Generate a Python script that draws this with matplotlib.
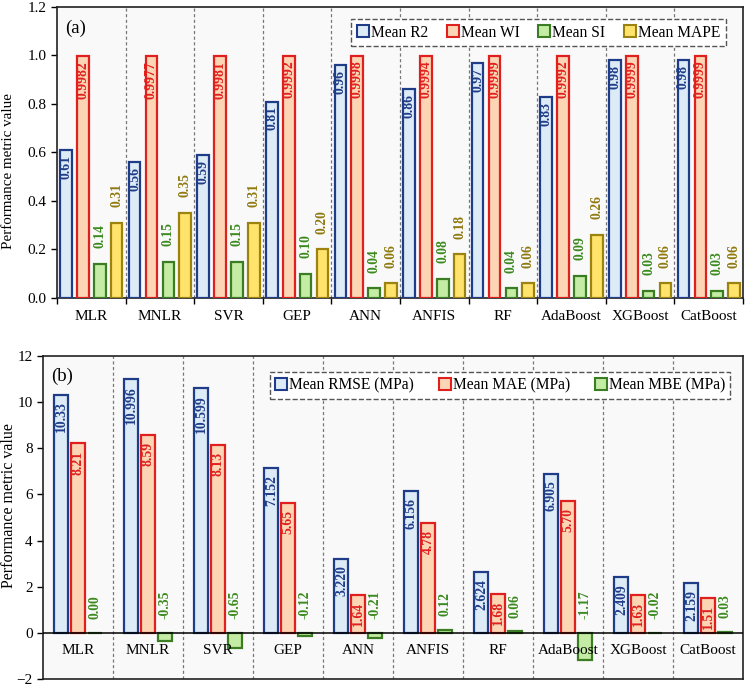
import matplotlib
matplotlib.use("Agg")
import matplotlib.pyplot as plt
from matplotlib.lines import Line2D
import numpy as np

plt.rcParams['font.family'] = ['Liberation Serif', 'DejaVu Serif']

models = ["MLR", "MNLR", "SVR", "GEP", "ANN", "ANFIS", "RF", "AdaBoost", "XGBoost", "CatBoost"]

# panel (a)
r2 = [0.61, 0.56, 0.59, 0.81, 0.96, 0.86, 0.97, 0.83, 0.98, 0.98]
wi = [0.9982, 0.9977, 0.9981, 0.9992, 0.9998, 0.9994, 0.9999, 0.9992, 0.9999, 0.9999]
si = [0.14, 0.15, 0.15, 0.10, 0.04, 0.08, 0.04, 0.09, 0.03, 0.03]
mape = [0.31, 0.35, 0.31, 0.20, 0.06, 0.18, 0.06, 0.26, 0.06, 0.06]

# panel (b)
rmse_txt = ["10.33", "10.996", "10.599", "7.152", "3.220", "6.156", "2.624", "6.905", "2.409", "2.159"]
mae_txt = ["8.21", "8.59", "8.13", "5.65", "1.64", "4.78", "1.68", "5.70", "1.63", "1.51"]
mbe_txt = ["0.00", "-0.35", "-0.65", "-0.12", "-0.21", "0.12", "0.06", "-1.17", "-0.02", "0.03"]
rmse = [float(s) for s in rmse_txt]
mae = [float(s) for s in mae_txt]
mbe = [float(s) for s in mbe_txt]

blue_f, blue_e = "#ddebf7", "#1f3c88"
red_f, red_e = "#fcd5b5", "#e0201e"
green_f, green_e = "#c4eca4", "#3b7d23"
yel_f, yel_e = "#ffe36b", "#9c8310"
green_t = "#3b8a1e"
yel_t = "#8f7a10"
bg = "#f9f9f9"

fig = plt.figure(figsize=(7.49, 6.86), dpi=100)
ax1 = fig.add_axes([0.0761, 0.5656, 0.916, 0.4242])
ax2 = fig.add_axes([0.0574, 0.0102, 0.9346, 0.4708])

x = np.arange(len(models))


def style(ax):
    ax.set_facecolor(bg)
    for s in ax.spines.values():
        s.set_linewidth(1.2)
        s.set_color("#222222")
    ax.set_xlim(-0.5, len(models) - 0.5)
    for b in np.arange(0.5, len(models) - 0.5, 1):
        ax.axvline(b, color="#777777", ls=(0, (2.5, 2)), lw=0.9, zorder=1)
    ax.tick_params(axis="y", labelsize=11, direction="out", length=4, width=1)


fig.text(0.012, 1 - 171 / 686, "Performance metric value", rotation=90, ha="center", va="center", fontsize=10.8)
fig.text(0.012, 1 - 506 / 686, "Performance metric value", rotation=90, ha="center", va="center", fontsize=11.5)

# ---------- (a)
style(ax1)
w1, st1 = 0.17, 0.246
series_a = [(r2, blue_f, blue_e), (wi, red_f, red_e), (si, green_f, green_e), (mape, yel_f, yel_e)]
for k, (vals, fc, ec) in enumerate(series_a):
    ax1.bar(x + (k - 1.5) * st1, vals, width=w1, facecolor=fc, edgecolor=ec, linewidth=1.6, zorder=3)

fs = 9.8
for i in range(len(models)):
    ax1.text(x[i] - 1.5 * st1, r2[i] - 0.02, f"{r2[i]:.2f}", rotation=90, ha="center", va="top",
             color=blue_e, fontsize=fs, fontweight="bold", zorder=4)
    ax1.text(x[i] - 0.5 * st1, wi[i] - 0.02, f"{wi[i]:.4f}", rotation=90, ha="center", va="top",
             color=red_e, fontsize=fs, fontweight="bold", zorder=4)
    ax1.text(x[i] + 0.5 * st1, si[i] + 0.065, f"{si[i]:.2f}", rotation=90, ha="center", va="bottom",
             color=green_t, fontsize=fs, fontweight="bold", zorder=4)
    ax1.text(x[i] + 1.5 * st1, mape[i] + 0.065, f"{mape[i]:.2f}", rotation=90, ha="center", va="bottom",
             color=yel_t, fontsize=fs, fontweight="bold", zorder=4)

ax1.set_ylim(0, 1.2)
ax1.set_yticks(np.arange(0, 1.21, 0.2))
ax1.set_yticklabels([f"{v:.1f}" for v in np.arange(0, 1.21, 0.2)])
ax1.set_xticks(x)
ax1.set_xticklabels(models, fontsize=11)
ax1.set_xticks(np.arange(-0.5, len(models), 1), minor=True)
ax1.tick_params(axis="x", which="major", length=0, pad=9)
ax1.tick_params(axis="x", which="minor", length=4, width=1)
ax1.text(0.012, 0.955, "(a)", transform=ax1.transAxes, fontsize=13.5, va="top", ha="left")

h_a = [Line2D([], [], marker="s", ls="none", markersize=8, markerfacecolor=fc, markeredgecolor=ec,
              markeredgewidth=1.5) for _, fc, ec in series_a]
leg1 = ax1.legend(h_a, ["Mean R2", "Mean WI", "Mean SI", "Mean MAPE"], ncol=4, loc="upper right",
                  bbox_to_anchor=(0.986, 0.985), fontsize=11.2, handlelength=0.8, handletextpad=0.1,
                  columnspacing=1.2, borderpad=0.35, fancybox=False, framealpha=1, facecolor="white",
                  edgecolor="#555555")
leg1.get_frame().set_linestyle("--")
leg1.get_frame().set_linewidth(1.0)
leg1.set_zorder(5)

# ---------- (b)
style(ax2)
w2, st2 = 0.2, 0.236
series_b = [(rmse, blue_f, blue_e), (mae, red_f, red_e), (mbe, green_f, green_e)]
for k, (vals, fc, ec) in enumerate(series_b):
    ax2.bar(x + (k - 1) * st2, vals, width=w2, facecolor=fc, edgecolor=ec, linewidth=1.6, zorder=3)

ax2.axhline(0, color="black", lw=1.1, zorder=4)

for i in range(len(models)):
    ax2.text(x[i] - st2, rmse[i] - 0.3, rmse_txt[i], rotation=90, ha="center", va="top",
             color=blue_e, fontsize=fs, fontweight="bold", zorder=5)
    ax2.text(x[i], mae[i] - 0.3, mae_txt[i], rotation=90, ha="center", va="top",
             color=red_e, fontsize=fs, fontweight="bold", zorder=5)
    ax2.text(x[i] + st2, max(mbe[i], 0) + 0.6, mbe_txt[i], rotation=90, ha="center", va="bottom",
             color=green_t, fontsize=fs, fontweight="bold", zorder=5)
    ax2.text(x[i], -0.78, models[i], ha="center", va="center", fontsize=11, zorder=5)

ax2.set_ylim(-2, 12)
ax2.set_yticks(np.arange(-2, 13, 2))
ax2.set_xticks([])
ax2.text(0.012, 0.965, "(b)", transform=ax2.transAxes, fontsize=13.5, va="top", ha="left")

h_b = [Line2D([], [], marker="s", ls="none", markersize=8, markerfacecolor=fc, markeredgecolor=ec,
              markeredgewidth=1.5) for _, fc, ec in series_b]
leg2 = ax2.legend(h_b, ["Mean RMSE (MPa)", "Mean MAE (MPa)", "Mean MBE (MPa)"], ncol=3, loc="upper right",
                  bbox_to_anchor=(0.993, 0.975), fontsize=11.2, handlelength=0.8, handletextpad=0.1,
                  columnspacing=1.6, borderpad=0.35, fancybox=False, framealpha=1, facecolor="white",
                  edgecolor="#555555")
leg2.get_frame().set_linestyle("--")
leg2.get_frame().set_linewidth(1.0)
leg2.set_zorder(5)

fig.savefig("out.png", dpi=100)
